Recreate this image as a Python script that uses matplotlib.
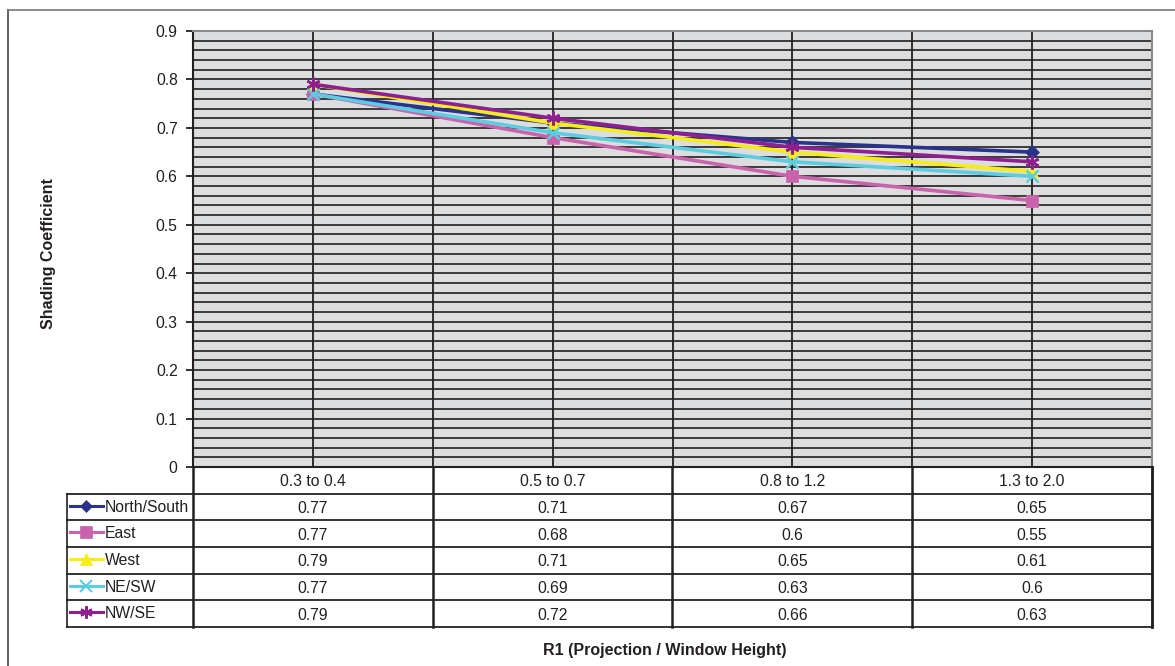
import numpy as np
import matplotlib
matplotlib.use("Agg")
import matplotlib.pyplot as plt
from matplotlib.lines import Line2D

plt.rcParams['font.family'] = ['Liberation Sans', 'DejaVu Sans']

# data
categories = ['0.3 to 0.4', '0.5 to 0.7', '0.8 to 1.2', '1.3 to 2.0']
series_names = ['North/South', 'East', 'West', 'NE/SW', 'NW/SE']
north_south = [0.77, 0.71, 0.67, 0.65]
east = [0.77, 0.68, 0.6, 0.55]
west = [0.79, 0.71, 0.65, 0.61]
ne_sw = [0.77, 0.69, 0.63, 0.6]
nw_se = [0.79, 0.72, 0.66, 0.63]
series_values = [north_south, east, west, ne_sw, nw_se]
y_ticks = [0, 0.1, 0.2, 0.3, 0.4, 0.5, 0.6, 0.7, 0.8, 0.9]

colors = ['#29338C', '#C964AC', '#F7EC13', '#5CCCE0', '#8E1F8E']
markers = ['D', 's', '^', 'x', (6, 2, 0)]
msizes = [7, 9, 9, 9, 10]
fs = 11.3

W, H = 1175, 666
fig = plt.figure(figsize=(W / 100, H / 100), dpi=100)

def box(x0, y0, x1, y1):
    return [x0 / W, 1 - y1 / H, (x1 - x0) / W, (y1 - y0) / H]

# outer frame lines
fig.add_artist(Line2D([8 / W, 8 / W], [0, 1 - 10 / H], color='#444444', lw=1.2))
fig.add_artist(Line2D([8 / W, 1], [1 - 10 / H, 1 - 10 / H], color='#777777', lw=1.2))

# main plot
ax = fig.add_axes(box(193, 31, 1152, 467))
ax.set_facecolor('#DCDDDE')
x = np.arange(len(categories))
ax.set_xlim(-0.5, len(categories) - 0.5)
ax.set_ylim(0, 0.9)
for v in np.arange(0.02, 0.9, 0.02):
    ax.axhline(v, color='#231F20', lw=1.2, zorder=1)
for v in np.arange(0, len(categories) - 0.5, 0.5):
    ax.axvline(v, color='#231F20', lw=1.3, zorder=1)

for name, vals, c, m, ms in zip(series_names, series_values, colors, markers, msizes):
    ax.plot(x, vals, color=c, lw=2.6, marker=m, markersize=ms,
            markeredgewidth=1.8 if m in ('x',) or isinstance(m, tuple) else 0.5,
            markeredgecolor=c, markerfacecolor=c, zorder=3)

ax.set_yticks(y_ticks)
ax.set_yticklabels([('%g' % t) for t in y_ticks], fontsize=fs, color='#231F20')
ax.set_xticks([])
ax.tick_params(axis='y', length=5, width=1.3, color='#231F20', pad=6)
for side in ['top', 'right']:
    ax.spines[side].set_color('#8A8A8A')
    ax.spines[side].set_linewidth(1.5)
ax.spines['left'].set_color('#231F20')
ax.spines['left'].set_linewidth(1.5)
ax.spines['bottom'].set_color('#231F20')
ax.spines['bottom'].set_linewidth(1.5)

fig.text(49 / W, 1 - 254 / H, 'Shading Coefficient', rotation=90, ha='center', va='center',
         fontsize=11.5, fontweight='bold', color='#231F20')
fig.text(665 / W, 1 - 650 / H, 'R1 (Projection / Window Height)', ha='center', va='center',
         fontsize=11.5, fontweight='bold', color='#231F20')

# data table under the plot
unit = 240.0  # pixels per category
leg_w = 126 / unit
tx0 = -0.5 - leg_w
tx1 = len(categories) - 0.5
tab = fig.add_axes(box(67, 467, 1152, 627))
tab.set_xlim(tx0, tx1)
nrows = len(series_names) + 1
tab.set_ylim(nrows, 0)
tab.axis('off')
lc = '#231F20'
# horizontal lines
for r in range(1, nrows + 1):
    tab.plot([tx0, tx1], [r, r], color='#333333', lw=1.4, clip_on=False)
# vertical lines
for v in np.arange(-0.5, len(categories), 1.0):
    tab.plot([v, v], [0, nrows], color=lc, lw=1.8, clip_on=False)
tab.plot([tx0, tx0], [1, nrows], color=lc, lw=1.2, clip_on=False)
tab.plot([tx1, tx1], [0, nrows], color=lc, lw=1.8, clip_on=False)

for i, cat in enumerate(categories):
    tab.text(i, 0.55, cat, ha='center', va='center', fontsize=fs, color='#231F20')
for r, (name, vals, c, m, ms) in enumerate(zip(series_names, series_values, colors, markers, msizes), start=1):
    for i, v in enumerate(vals):
        tab.text(i, r + 0.55, '%g' % v, ha='center', va='center', fontsize=fs, color='#231F20')
    k0 = tx0 + 3 / unit
    k1 = tx0 + 36 / unit
    tab.plot([k0, k1], [r + 0.45, r + 0.45], color=c, lw=2.2, clip_on=False)
    tab.plot([(k0 + k1) / 2], [r + 0.45], marker=m, markersize=ms * 0.9, color=c,
             markeredgewidth=1.5 if m == 'x' or isinstance(m, tuple) else 0.5, clip_on=False)
    tab.text(tx0 + 38 / unit, r + 0.5, name, ha='left', va='center', fontsize=fs, color='#231F20')

fig.savefig('out.png', dpi=100)
